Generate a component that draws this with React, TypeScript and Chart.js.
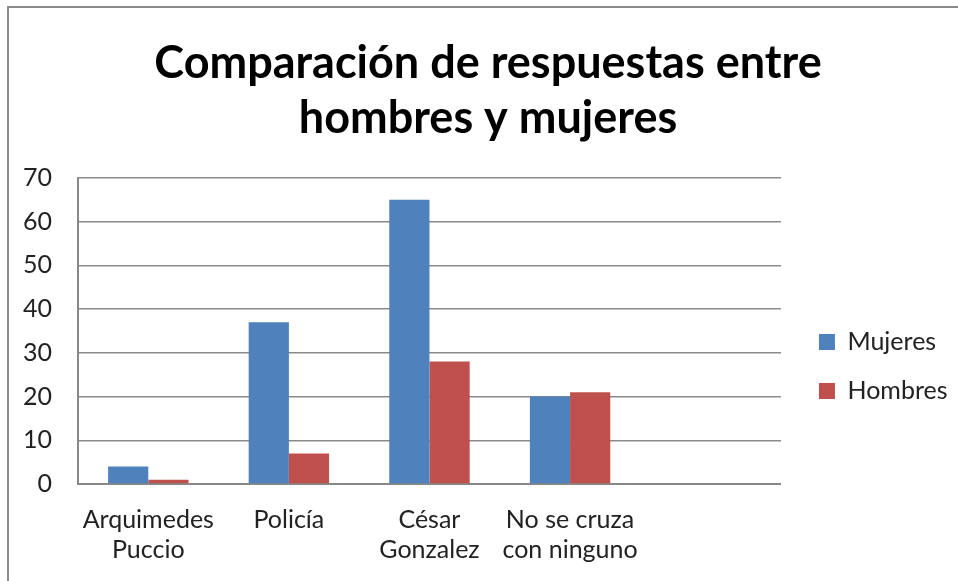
import React, { useEffect, useRef } from "react";
import { Chart, registerables } from "chart.js";

Chart.register(...registerables);

const titleLines = ["Comparación de respuestas entre", "hombres y mujeres"];
const categories: (string | string[])[] = [
  ["Arquimedes", "Puccio"],
  "Policía",
  ["César", "Gonzalez"],
  ["No se cruza", "con ninguno"],
  "",
];
const seriesNames = ["Mujeres", "Hombres"];
const mujeres = [4, 37, 65, 20, null];
const hombres = [1, 7, 28, 21, null];
const yMax = 70;
const yStep = 10;

const FONT = "Lato, 'Open Sans', sans-serif";

const boxShift = {
  id: "boxShift",
  afterLayout(chart: any) {
    const lg = chart.legend;
    if (lg) {
      const dx = 14;
      const dy = 58;
      lg.left += dx;
      lg.right += dx;
      lg.top += dy;
      lg.bottom += dy;
    }
    const tb = chart.titleBlock;
    if (tb) {
      const tdx = 7.25;
      tb.left += tdx;
      tb.right += tdx;
    }
  },
};

export default function App() {
  const ref = useRef<HTMLCanvasElement | null>(null);

  useEffect(() => {
    if (!ref.current) return;
    const chart = new Chart(ref.current, {
      type: "bar",
      data: {
        labels: categories,
        datasets: [
          {
            label: seriesNames[0],
            data: mujeres,
            backgroundColor: "#4F81BD",
            categoryPercentage: 0.572,
            barPercentage: 1,
          },
          {
            label: seriesNames[1],
            data: hombres,
            backgroundColor: "#C0504D",
            categoryPercentage: 0.572,
            barPercentage: 1,
          },
        ],
      },
      plugins: [boxShift],
      options: {
        responsive: false,
        animation: false,
        layout: { padding: { left: 18, right: 14.5, top: 36, bottom: 0 } },
        plugins: {
          tooltip: { enabled: false },
          title: {
            display: true,
            text: titleLines,
            color: "#000",
            font: { family: FONT, size: 45, weight: "bold", lineHeight: 1.222 },
            padding: { top: 0, bottom: 32 },
          },
          legend: {
            position: "right",
            labels: {
              color: "#222",
              font: { family: FONT, size: 25 },
              boxWidth: 16,
              boxHeight: 16,
              padding: 24,
            },
          },
        },
        scales: {
          x: {
            grid: { display: false, drawTicks: false },
            border: { display: true, color: "#888", width: 2 },
            ticks: {
              color: "#222",
              font: { family: FONT, size: 25, lineHeight: 1.2 },
              padding: 21,
              maxRotation: 0,
              autoSkip: false,
            },
            afterFit(scale: any) {
              scale.height = 97;
            },
          },
          y: {
            min: 0,
            max: yMax,
            ticks: {
              stepSize: yStep,
              color: "#222",
              font: { family: FONT, size: 25 },
              padding: 26,
            },
            grid: { color: "#8a8a8a", lineWidth: 1.5, drawTicks: false },
            border: { display: true, color: "#888", width: 2 },
            afterFit(scale: any) {
              scale.width = 60;
            },
          },
        },
      },
    });
    return () => chart.destroy();
  }, []);

  return (
    <div
      style={{
        position: "fixed",
        left: 0,
        top: 0,
        width: 958,
        height: 581,
        overflow: "hidden",
        background: "#fff",
      }}
    >
      <div
        style={{
          position: "absolute",
          left: 7,
          top: 6,
          width: 1200,
          height: 900,
          border: "2px solid #8a8a8a",
        }}
      />
      <canvas
        ref={ref}
        width={958}
        height={581}
        style={{ position: "absolute", left: 0, top: 0, width: 958, height: 581 }}
      />
    </div>
  );
}
